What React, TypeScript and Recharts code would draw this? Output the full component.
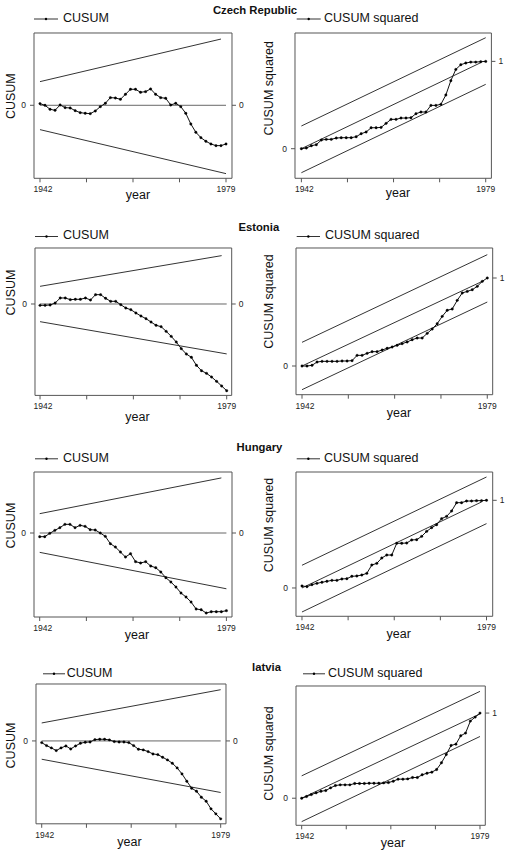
import React from 'react';
import { LineChart, Line, XAxis, YAxis } from 'recharts';

const FONT = '"Liberation Sans", Arial, Helvetica, sans-serif';
const BOX = '#555';

const years = [1942, 1943, 1944, 1945, 1946, 1947, 1948, 1949, 1950, 1951, 1952, 1953, 1954, 1955, 1956, 1957, 1958, 1959, 1960, 1961, 1962, 1963, 1964, 1965, 1966, 1967, 1968, 1969, 1970, 1971, 1972, 1973, 1974, 1975, 1976, 1977, 1978, 1979];
const xTicks = [1942, 1951.25, 1960.5, 1969.75, 1979];
const labelledYears = [1942, 1979];

// CUSUM series
const czechCusum = [0.4, 0, -0.96, -1.2, 0.08, -0.56, -0.64, -1.28, -1.76, -1.92, -2.0, -1.36, -0.32, 0.48, 1.84, 1.76, 1.44, 2.64, 3.84, 3.84, 3.12, 3.28, 3.92, 2.64, 1.84, 1.68, 0.08, 0.48, -0.32, -1.92, -4.48, -6.48, -7.76, -8.64, -9.28, -9.68, -9.68, -9.28];
const estoniaCusum = [-0.43, -0.43, -0.32, 0.32, 1.94, 1.94, 1.4, 1.51, 1.51, 1.94, 1.29, 3.01, 3.01, 1.83, 0.86, 0.86, -0.22, -1.29, -1.83, -2.9, -3.87, -4.73, -5.81, -6.88, -7.31, -8.82, -10.43, -12.26, -14.41, -16.13, -17.2, -19.78, -21.51, -22.37, -23.55, -24.95, -26.45, -27.96];
const hungaryCusum = [-1.08, -1.08, -0.1, 0.78, 1.57, 2.55, 2.55, 1.57, 2.25, 1.96, 0.98, 0.88, 0, -0.98, -3.14, -4.12, -5.59, -7.06, -6.08, -8.43, -8.82, -8.43, -9.71, -10.2, -11.47, -13.14, -14.41, -15.88, -17.65, -18.82, -20.29, -22.35, -22.55, -23.53, -23.14, -23.14, -23.14, -22.84];
const latviaCusum = [-0.53, -1.47, -2.21, -3.05, -2.21, -1.58, -2.53, -1.58, -0.74, -0.42, -0.32, 0.42, 0.53, 0.53, 0.32, -0.21, -0.32, -0.32, -0.53, -1.47, -2.63, -2.84, -3.37, -4.11, -4.32, -5.16, -6.0, -7.05, -8.53, -10.42, -12.74, -14.95, -15.89, -17.79, -19.05, -21.47, -23.05, -24.63];

// CUSUM squared series
const czechSq = [0, 0.008, 0.034, 0.046, 0.099, 0.107, 0.107, 0.122, 0.126, 0.126, 0.126, 0.137, 0.172, 0.191, 0.24, 0.24, 0.244, 0.29, 0.336, 0.336, 0.351, 0.351, 0.355, 0.401, 0.42, 0.42, 0.496, 0.496, 0.508, 0.615, 0.779, 0.908, 0.962, 0.981, 0.992, 0.992, 0.996, 1.0];
const estoniaSq = [0, 0, 0.008, 0.045, 0.053, 0.053, 0.053, 0.053, 0.057, 0.057, 0.061, 0.121, 0.121, 0.144, 0.163, 0.163, 0.182, 0.201, 0.216, 0.235, 0.254, 0.273, 0.299, 0.318, 0.318, 0.371, 0.42, 0.481, 0.564, 0.633, 0.648, 0.746, 0.83, 0.848, 0.867, 0.905, 0.962, 1.0];
const hungarySq = [0.023, 0.015, 0.038, 0.053, 0.065, 0.076, 0.087, 0.087, 0.103, 0.106, 0.133, 0.137, 0.148, 0.167, 0.262, 0.281, 0.342, 0.376, 0.376, 0.51, 0.51, 0.513, 0.548, 0.551, 0.589, 0.646, 0.688, 0.722, 0.791, 0.817, 0.878, 0.973, 0.973, 0.992, 0.992, 0.996, 0.996, 1.0];
const latviaSq = [0, 0.02, 0.043, 0.063, 0.082, 0.09, 0.122, 0.149, 0.157, 0.157, 0.157, 0.173, 0.173, 0.173, 0.176, 0.176, 0.176, 0.18, 0.184, 0.2, 0.224, 0.224, 0.227, 0.243, 0.243, 0.275, 0.294, 0.306, 0.337, 0.416, 0.514, 0.62, 0.635, 0.733, 0.765, 0.906, 0.953, 1.0];

// 5% significance bounds (end points)
const zeroLine = [{ year: 1942, v: 0 }, { year: 1979, v: 0 }];
const czechCusumUpper = [{ year: 1942, v: 5.68 }, { year: 1978, v: 15.9 }];
const czechCusumLower = [{ year: 1942, v: -5.84 }, { year: 1979, v: -16.4 }];
const estoniaCusumUpper = [{ year: 1942, v: 5.7 }, { year: 1978, v: 15.6 }];
const estoniaCusumLower = [{ year: 1942, v: -5.7 }, { year: 1979, v: -16.1 }];
const hungaryCusumUpper = [{ year: 1942, v: 5.69 }, { year: 1978, v: 16.2 }];
const hungaryCusumLower = [{ year: 1942, v: -5.69 }, { year: 1979, v: -16.4 }];
const latviaCusumUpper = [{ year: 1942, v: 5.68 }, { year: 1979, v: 16.2 }];
const latviaCusumLower = [{ year: 1942, v: -5.79 }, { year: 1979, v: -16.3 }];

const czechSqUpper = [{ year: 1942, v: 0.26 }, { year: 1979, v: 1.271 }];
const czechSqMid = [{ year: 1942, v: 0 }, { year: 1978, v: 0.985 }];
const czechSqLower = [{ year: 1942, v: -0.275 }, { year: 1979, v: 0.737 }];
const estoniaSqUpper = [{ year: 1942, v: 0.269 }, { year: 1979, v: 1.265 }];
const estoniaSqMid = [{ year: 1942, v: 0 }, { year: 1978, v: 0.962 }];
const estoniaSqLower = [{ year: 1942, v: -0.269 }, { year: 1979, v: 0.727 }];
const hungarySqUpper = [{ year: 1942, v: 0.259 }, { year: 1979, v: 1.266 }];
const hungarySqMid = [{ year: 1942, v: 0 }, { year: 1978, v: 0.981 }];
const hungarySqLower = [{ year: 1942, v: -0.274 }, { year: 1979, v: 0.734 }];
const latviaSqUpper = [{ year: 1942, v: 0.263 }, { year: 1979, v: 1.255 }];
const latviaSqMid = [{ year: 1942, v: 0 }, { year: 1979, v: 0.99 }];
const latviaSqLower = [{ year: 1942, v: -0.275 }, { year: 1979, v: 0.725 }];

const titles = [
  { text: 'Czech Republic', x: 255, y: 14 },
  { text: 'Estonia', x: 258.8, y: 231 },
  { text: 'Hungary', x: 259.5, y: 451.2 },
  { text: 'latvia', x: 266.5, y: 671.4 },
];

const CUSUM = 'CUSUM';
const CUSUMSQ = 'CUSUM squared';

const panels = [
  { box: { x0: 34, x1: 232, y0: 33, y1: 178.3 }, xDomain: [1940.81, 1980.19], yDomain: [-17.52, 17.35], values: czechCusum, refs: [czechCusumUpper, czechCusumLower, zeroLine], rightTick: 0, name: CUSUM, legend: { x0: 34, x1: 58, tx: 63, y: 21.7 }, yLabel: { x: 15, y: 96.2 }, xLabel: { x: 138, y: 199.3 } },
  { box: { x0: 295.3, x1: 491.7, y0: 33, y1: 178.3 }, xDomain: [1940.72, 1980.14], yDomain: [-0.339, 1.325], values: czechSq, refs: [czechSqUpper, czechSqMid, czechSqLower], rightTick: 1, name: CUSUMSQ, legend: { x0: 296.7, x1: 320.7, tx: 324, y: 21.7 }, yLabel: { x: 273, y: 88.3 }, xLabel: { x: 398, y: 197.3 } },
  { box: { x0: 35, x1: 231.7, y0: 248.3, y1: 395.7 }, xDomain: [1941.0, 1979.99], yDomain: [-29.48, 18.06], values: estoniaCusum, refs: [estoniaCusumUpper, estoniaCusumLower, zeroLine], rightTick: 0, name: CUSUM, legend: { x0: 35, x1: 58, tx: 63, y: 239.2 }, yLabel: { x: 15, y: 292.5 }, xLabel: { x: 137.5, y: 420.7 } },
  { box: { x0: 296, x1: 492.7, y0: 248.3, y1: 395 }, xDomain: [1940.8, 1980.08], yDomain: [-0.326, 1.341], values: estoniaSq, refs: [estoniaSqUpper, estoniaSqMid, estoniaSqLower], rightTick: 1, name: CUSUMSQ, legend: { x0: 296.7, x1: 320, tx: 325, y: 239.2 }, yLabel: { x: 273, y: 301.5 }, xLabel: { x: 399, y: 416.7 } },
  { box: { x0: 34.3, x1: 232.3, y0: 471.7, y1: 616.7 }, xDomain: [1940.87, 1980.11], yDomain: [-24.7, 17.94], values: hungaryCusum, refs: [hungaryCusumUpper, hungaryCusumLower, zeroLine], rightTick: 0, name: CUSUM, legend: { x0: 35, x1: 58, tx: 63, y: 461.5 }, yLabel: { x: 15, y: 525.6 }, xLabel: { x: 137, y: 639 } },
  { box: { x0: 296, x1: 492.7, y0: 471.7, y1: 616 }, xDomain: [1940.8, 1980.24], yDomain: [-0.323, 1.323], values: hungarySq, refs: [hungarySqUpper, hungarySqMid, hungarySqLower], rightTick: 1, name: CUSUMSQ, legend: { x0: 296.7, x1: 320, tx: 324, y: 461.5 }, yLabel: { x: 273, y: 525 }, xLabel: { x: 398.7, y: 637.7 } },
  { box: { x0: 36, x1: 226, y0: 683.5, y1: 823.3 }, xDomain: [1940.82, 1980.1], yDomain: [-26.2, 18.0], values: latviaCusum, refs: [latviaCusumUpper, latviaCusumLower, zeroLine], rightTick: 0, name: CUSUM, legend: { x0: 43, x1: 65, tx: 66.7, y: 676.5 }, yLabel: { x: 15, y: 745.5 }, xLabel: { x: 129.5, y: 845.7 } },
  { box: { x0: 296, x1: 485.3, y0: 685.7, y1: 825 }, xDomain: [1940.82, 1980.1], yDomain: [-0.318, 1.318], values: latviaSq, refs: [latviaSqUpper, latviaSqMid, latviaSqLower], rightTick: 1, name: CUSUMSQ, legend: { x0: 303, x1: 325, tx: 328, y: 676.5 }, yLabel: { x: 273, y: 753.5 }, xLabel: { x: 393, y: 847.3 } },
];

const renderYearTick = (props: any) => {
  const v = props.payload && props.payload.value;
  if (!labelledYears.includes(v)) return <g />;
  return (
    <text x={props.x + (v === 1942 ? 3 : 0)} y={props.y} dy="0.71em" textAnchor="middle" fontSize={8.5} fill="#222" fontFamily={FONT}>
      {v}
    </text>
  );
};

const yTickStyle = { fill: '#222', fontSize: 8.5, fontFamily: FONT };

function Panel({ p }: { p: any }) {
  const w = p.box.x1 - p.box.x0 + 60;
  const h = p.box.y1 - p.box.y0 + 30;
  const data = years.map((y, i) => ({ year: y, v: p.values[i] }));
  return (
    <div style={{ position: 'absolute', left: p.box.x0 - 30, top: p.box.y0 - 10 }}>
      <LineChart width={w} height={h} margin={{ top: 0, right: 0, bottom: 0, left: 0 }}>
        <XAxis xAxisId="b" orientation="bottom" type="number" dataKey="year" domain={p.xDomain} allowDataOverflow ticks={xTicks} interval={0} height={20} tickSize={4} tickMargin={4} stroke={BOX} tick={renderYearTick} />
        <XAxis xAxisId="t" orientation="top" type="number" dataKey="year" domain={p.xDomain} allowDataOverflow ticks={xTicks} interval={0} height={10} tickSize={4} tick={false} stroke={BOX} />
        <YAxis yAxisId="l" orientation="left" type="number" domain={p.yDomain} allowDataOverflow ticks={[0]} interval={0} width={30} tickSize={4} tickMargin={4} stroke={BOX} tick={yTickStyle} />
        <YAxis yAxisId="r" orientation="right" type="number" domain={p.yDomain} allowDataOverflow ticks={[p.rightTick]} interval={0} width={30} tickSize={4} tickMargin={3} stroke={BOX} tick={yTickStyle} />
        {p.refs.map((r: any, i: number) => (
          <Line key={i} xAxisId="b" yAxisId="l" data={r} dataKey="v" type="linear" stroke={r === zeroLine ? '#666' : '#333'} strokeWidth={1} dot={false} isAnimationActive={false} />
        ))}
        <Line xAxisId="b" yAxisId="l" data={data} dataKey="v" type="linear" stroke="#111" strokeWidth={1} dot={{ r: 1.2, fill: '#000', stroke: '#000', strokeWidth: 0.4 }} isAnimationActive={false} />
      </LineChart>
    </div>
  );
}

export default function App() {
  return (
    <div style={{ position: 'absolute', left: 0, top: 0, width: 505, height: 851, background: '#fff', overflow: 'hidden' }}>
      {panels.map((p, i) => (
        <Panel key={i} p={p} />
      ))}
      <svg width={505} height={851} style={{ position: 'absolute', left: 0, top: 0, pointerEvents: 'none' }} fontFamily={FONT}>
        {titles.map((t, i) => (
          <text key={i} x={t.x} y={t.y} textAnchor="middle" fontSize={11.3} fontWeight="bold" fill="#111">{t.text}</text>
        ))}
        {panels.map((p, i) => (
          <g key={i}>
            <line x1={p.legend.x0} x2={p.legend.x1} y1={p.legend.y - 2.7} y2={p.legend.y - 2.7} stroke="#333" strokeWidth={1} />
            <circle cx={(p.legend.x0 + p.legend.x1) / 2} cy={p.legend.y - 2.7} r={1.2} fill="#000" />
            <text x={p.legend.tx} y={p.legend.y} fontSize={12.5} fill="#111">{p.name}</text>
            <text transform={`translate(${p.yLabel.x},${p.yLabel.y}) rotate(-90)`} textAnchor="middle" fontSize={12.5} fill="#111">{p.name}</text>
            <text x={p.xLabel.x} y={p.xLabel.y} textAnchor="middle" fontSize={12.5} fill="#111">year</text>
          </g>
        ))}
      </svg>
    </div>
  );
}
